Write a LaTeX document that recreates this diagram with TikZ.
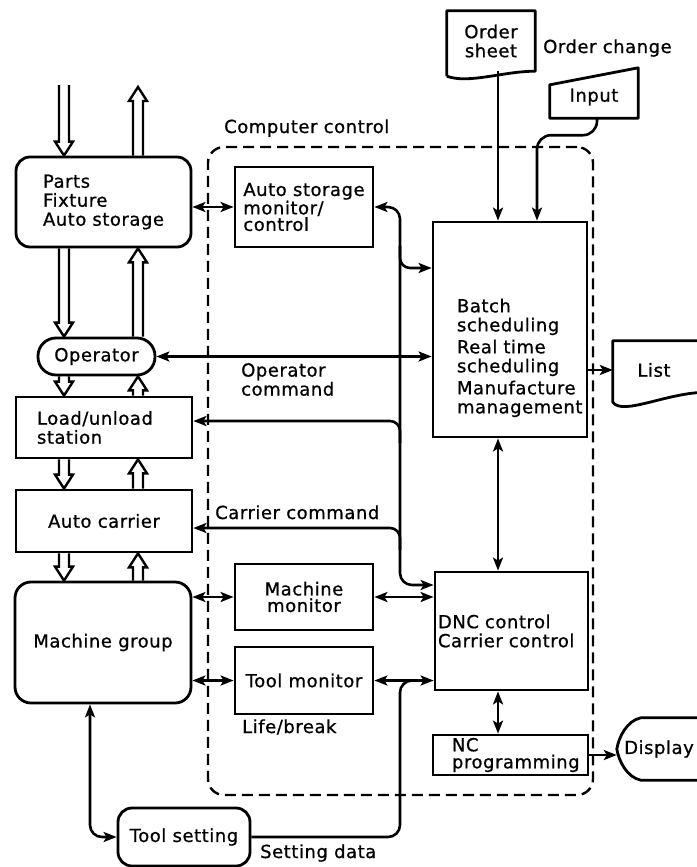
\documentclass[tikz,border=0pt]{standalone}
\usepackage{fontspec}
\setsansfont{DejaVu Sans}[LetterSpace=3, FakeBold=0.8]
\usetikzlibrary{arrows.meta, calc}
\hyphenpenalty=10000

% hollow material-flow arrow on a vertical, from #1 (tail) to #2 (tip)
\newcommand{\fatarrow}[2]{%
  \draw[fat] let \p1=#1, \p2=#2, \p3=($#2!14pt!#1$) in
    (\x1-5pt,\y1) -- (\x1-5pt,\y3) -- (\x1-9pt,\y3) -- (\x2,\y2)
    -- (\x1+9pt,\y3) -- (\x1+5pt,\y3) -- (\x1+5pt,\y1);}

\begin{document}
\begin{tikzpicture}[
    x=1pt, y=-1pt,
    font=\sffamily\fontsize{18}{19}\selectfont,
    >={Stealth[length=13pt, width=10pt, inset=3pt]},
    box/.style={draw, line width=2.8pt, inner sep=0pt, align=center},
    rbox/.style={box, rounded corners=14pt},
    tight/.style={font=\sffamily\fontsize{18}{16.5}\selectfont},
    link/.style={line width=2.6pt},
    fat/.style={line width=2.4pt, line join=miter},
    shapeline/.style={line width=2.8pt, line join=round},
    ccframe/.style={draw, line width=2.4pt, dash pattern=on 11pt off 6pt, rounded corners=16pt},
    tag/.style={inner sep=0pt, align=left},
]
\useasboundingbox (0,0) rectangle (696,867);

% ---- Computer control frame ----
\node[ccframe, minimum width=385pt, minimum height=648pt] (cc) at (400.5,471) {};
\node[tag, anchor=base west] (cclabel) at (224,133) {Computer control};

% ---- Material flow column ----
\node[rbox, align=left, text width=121pt, inner xsep=27pt, minimum height=90pt] (parts)
    at (103.5,202) {Parts\\Fixture\\Auto storage};
\node[box, rounded corners=18pt, minimum width=117pt, minimum height=37pt] (op)
    at (96.5,356.5) {Operator};
\node[box, align=left, text width=134pt, inner xsep=21pt, minimum height=61pt] (load)
    at (104,427.5) {Load/unload\\station};
\node[box, minimum width=176pt, minimum height=62pt] (carrier)
    at (104,521) {Auto carrier};
\node[rbox, rounded corners=16pt, minimum width=176pt, minimum height=121pt] (mg)
    at (103,642.5) {Machine group};
\node[rbox, minimum width=132pt, minimum height=58pt] (toolset)
    at (184,837) {Tool setting};

% ---- Computer side ----
\node[box, tight, align=left, minimum width=138pt, minimum height=80pt] (asm)
    at (304,207) {Auto storage\\monitor/\\control};
\node[box, align=left, text width=106pt, inner xsep=24pt, minimum height=215pt, text depth=48pt] (batch)
    at (510,329.5) {Batch\\scheduling\\[3pt]Real time\\scheduling\\[3pt]Manufacture\\management};
\node[box, align=left, text width=147pt, inner xsep=3pt, minimum height=118pt] (dnc)
    at (511.5,631) {DNC control\\Carrier control};
\node[box, tight, minimum width=138pt, minimum height=66pt] (mm)
    at (304,597) {Machine\\monitor};
\node[box, minimum width=138pt, minimum height=67pt] (tm)
    at (304,680.5) {Tool monitor};
\node[box, font=\sffamily\fontsize{18}{17}\selectfont, align=left, text width=117pt, inner xsep=19pt, minimum height=40pt] (nc)
    at (510.5,755) {NC\\programming};

% ---- Terminals ----
\node[inner sep=0pt, minimum width=88pt, minimum height=60pt, align=center] (order) at (491,41) {Order\\sheet};
\draw[shapeline] ([yshift=-5pt]order.south west) -- (order.north west) -- (order.north east)
    -- (order.south east) .. controls +(-32,0) and +(22,8) .. ([yshift=-5pt]order.south west);
\node[inner sep=0pt, minimum width=88pt, minimum height=42pt] (input) at (594,97) {Input};
\draw[shapeline] (input.south west) -- (input.south east) -- ([yshift=8pt]input.north east)
    -- ([yshift=-9pt]input.north west) -- cycle;
\node[inner sep=0pt, minimum width=82pt, minimum height=58pt] (list) at (654,370) {List};
\draw[shapeline] ([xshift=12pt]list.north east) -- (list.north west) -- ([yshift=-3pt]list.south west)
    .. controls +(10,14) and +(-40,0) .. ([xshift=12pt,yshift=7pt]list.south east);
\node[inner sep=0pt, minimum width=84pt, minimum height=62pt] (display) at (659,749) {Display};
\draw[shapeline] ([xshift=8pt]display.north east) -- ([xshift=24pt]display.north west)
    .. controls +(-14,3) and +(2,-12) .. (display.west)
    .. controls +(2,12) and +(-14,-3) .. ([xshift=24pt]display.south west)
    -- ([xshift=8pt]display.south east);

% ---- Labels ----
\node[tag, anchor=base west] (changelabel) at (543,53) {Order change};
\node[tag, anchor=north west] (opcmd) at (241,363) {Operator\\command};
\node[tag, anchor=base west] (carcmd) at (215,519) {Carrier command};
\node[tag, anchor=base west] (lifelabel) at (242,733) {Life/break};
\node[tag, anchor=base west] (setlabel) at (260,858) {Setting data};

% ---- Helper coordinates ----
\coordinate (in col) at (64,0);
\coordinate (out col) at (138,0);
\coordinate (feed) at (64,85);
\coordinate (exit) at (138,87);
\coordinate (bus) at (400,0);
\coordinate (prog col) at (498,0);
\coordinate (input col) at (537,0);
\coordinate (tool col) at (90,0);
\coordinate (batch in) at ([yshift=61.5pt]batch.west);
\coordinate (dnc in) at ([yshift=46pt]dnc.west);
\coordinate (load in) at ([yshift=6.5pt]load.east);
\coordinate (carrier in) at ([yshift=-7pt]carrier.east);

% ---- Hollow material arrows ----
\fatarrow{(feed)}{(parts.north -| in col)}
\fatarrow{(parts.north -| out col)}{(exit)}
\fatarrow{(parts.south -| in col)}{(op.north -| in col)}
\fatarrow{(op.north -| out col)}{(parts.south -| out col)}
\fatarrow{(op.south -| in col)}{(load.north -| in col)}
\fatarrow{(load.north -| out col)}{(op.south -| out col)}
\fatarrow{(load.south -| in col)}{(carrier.north -| in col)}
\fatarrow{(carrier.north -| out col)}{(load.south -| out col)}
\fatarrow{(carrier.south -| in col)}{(mg.north -| in col)}
\fatarrow{(mg.north -| out col)}{(carrier.south -| out col)}

% ---- Signal lines ----
\draw[link, <->] (parts.east |- asm.west) -- (asm.west);
\draw[link, <->, rounded corners=12pt] (asm.east) -| (bus |- dnc in) -- (dnc in);
\draw[link, ->, rounded corners=10pt] ($(bus |- batch in)+(0,-22)$) |- (batch in);
\draw[link, ->, rounded corners=10pt] ($(bus |- load in)+(0,22)$) |- (load in);
\draw[link, ->, rounded corners=10pt] ($(bus |- carrier in)+(0,22)$) |- (carrier in);
\draw[link, <->] (op.east) -- (batch.west |- op.east);
\draw[link, ->] (order.south -| prog col) -- (batch.north -| prog col);
\draw[link, ->, rounded corners=14pt] ([xshift=3pt]input.south) -- ++(0,17) -| (batch.north -| input col);
\draw[link, <->] (batch.south -| prog col) -- (dnc.north -| prog col);
\draw[link, <->] (dnc.south -| prog col) -- (nc.north -| prog col);
\draw[link, ->] (nc.east) -- (display.west |- nc.east);
\draw[link, ->] (batch.east |- list.west) -- (list.west);
\draw[link, <->] (mg.east |- mm.west) -- (mm.west);
\draw[link, <->] (mm.east) -- (dnc.west |- mm.east);
\draw[link, <->] (mg.east |- tm.west) -- (tm.west);
\draw[link, <->] (tm.east) -- (dnc.west |- tm.east);
\draw[link, <->, rounded corners=12pt] (mg.south -| tool col) |- (toolset.west);
\draw[link, rounded corners=12pt] (toolset.east) -| (bus |- tm.east) -- ++(24,0);

\end{tikzpicture}
\end{document}
